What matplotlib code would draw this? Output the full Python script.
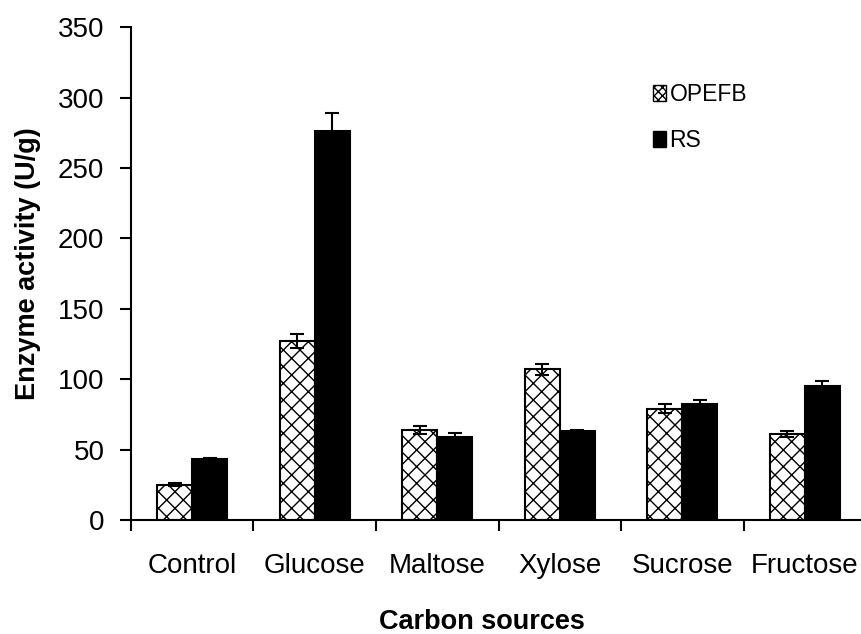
import matplotlib
matplotlib.use("Agg")
import matplotlib.pyplot as plt
import numpy as np
from matplotlib.patches import Patch

plt.rcParams['font.family'] = ['Liberation Sans', 'DejaVu Sans']
plt.rcParams['hatch.linewidth'] = 1.0

categories = ["Control", "Glucose", "Maltose", "Xylose", "Sucrose", "Fructose"]
opefb = [25, 127, 64, 107, 79, 61]
opefb_err = [1, 5, 3, 4, 3, 2]
rs = [43, 276, 59, 63, 82, 95]
rs_err = [1, 13, 3, 1, 3, 4]
yticks = [0, 50, 100, 150, 200, 250, 300, 350]

fig = plt.figure(figsize=(8.61, 6.34), dpi=100)
ax = fig.add_axes([0.152, 0.180, 0.854, 0.777])

x = np.arange(len(categories))
w = 0.285
ekw = dict(ecolor='black', elinewidth=1.5, capsize=5, capthick=1.5)
ax.bar(x - w/2, opefb, w, color='white', edgecolor='black', hatch='xx', linewidth=1.5,
       yerr=opefb_err, error_kw=ekw, zorder=2)
ax.bar(x + w/2, rs, w, color='black', edgecolor='black', linewidth=1.5,
       yerr=rs_err, error_kw=ekw, zorder=2)

ax.set_xlim(-0.5, len(categories) - 0.5)
ax.set_ylim(0, 350)
ax.set_yticks(yticks)
ax.tick_params(axis='y', direction='out', length=8, width=1.5, labelsize=20, pad=11)

ax.set_xticks(np.arange(len(categories) + 1) - 0.5)
ax.set_xticklabels([])
ax.tick_params(axis='x', which='major', direction='out', length=8, width=1.5)
ax.set_xticks(x, minor=True)
ax.set_xticklabels(categories, minor=True, fontsize=20)
ax.tick_params(axis='x', which='minor', length=0, pad=24)

for s in ['top', 'right']:
    ax.spines[s].set_visible(False)
for s in ['left', 'bottom']:
    ax.spines[s].set_linewidth(1.5)

ax.set_ylabel("Enzyme activity (U/g)", fontsize=19.5, fontweight='bold')
ax.yaxis.set_label_coords(-0.122, 0.52)
ax.set_xlabel("Carbon sources", fontsize=19.5, fontweight='bold')
ax.xaxis.set_label_coords(0.478, -0.18)

handles = [Patch(facecolor='white', edgecolor='black', hatch='xxxx', linewidth=1.0, label='OPEFB'),
           Patch(facecolor='black', edgecolor='black', linewidth=1.0, label='RS')]
ax.legend(handles=handles, loc='upper left', bbox_to_anchor=(0.695, 0.91), frameon=False,
          fontsize=16.5, handlelength=0.55, handleheight=0.7, handletextpad=0.15,
          labelspacing=1.0, borderpad=0)

fig.savefig("out.png", dpi=100)
